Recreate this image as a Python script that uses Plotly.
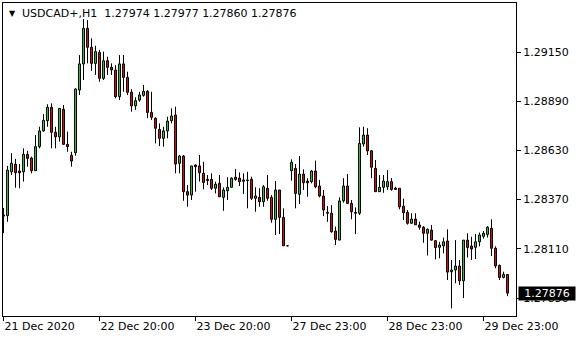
import plotly.graph_objects as go

symbol_title = "USDCAD+,H1\u00a0\u00a01.27974 1.27977 1.27860 1.27876"
last_price = 1.27876

opens = [
    1.28289, 1.28285, 1.28517, 1.28557, 1.28521, 1.28517, 1.28609, 1.28590, 1.28523, 1.28650,
    1.28733, 1.28787, 1.28858, 1.28726, 1.28702, 1.28847, 1.28662, 1.28604, 1.28618, 1.28949,
    1.29087, 1.29275, 1.29175, 1.29090, 1.29148, 1.29011, 1.29104, 1.29069, 1.29055, 1.28914,
    1.29087, 1.29016, 1.28937, 1.28866, 1.28896, 1.28921, 1.28942, 1.28831, 1.28800, 1.28741,
    1.28694, 1.28733, 1.28787, 1.28817, 1.28562, 1.28600, 1.28412, 1.28394, 1.28553, 1.28548,
    1.28509, 1.28477, 1.28477, 1.28430, 1.28456, 1.28382, 1.28417, 1.28435, 1.28488, 1.28483,
    1.28474, 1.28474, 1.28477, 1.28377, 1.28382, 1.28359, 1.28430, 1.28382, 1.28266, 1.28421,
    1.28276, 1.28126, 1.28523, 1.28535, 1.28398, 1.28505, 1.28468, 1.28465, 1.28521, 1.28442,
    1.28389, 1.28303, 1.28298, 1.28204, 1.28156, 1.28364, 1.28442, 1.28350, 1.28303, 1.28298,
    1.28664, 1.28711, 1.28628, 1.28535, 1.28412, 1.28435, 1.28438, 1.28465, 1.28430, 1.28430,
    1.28335, 1.28302, 1.28245, 1.28267, 1.28236, 1.28224, 1.28192, 1.28209, 1.28153, 1.28118,
    1.28126, 1.28151, 1.27989, 1.27998, 1.28019, 1.27941, 1.28156, 1.28125, 1.28118, 1.28147,
    1.28176, 1.28186, 1.28218, 1.28113, 1.28022, 1.27959, 1.27974,
]

highs = [
    1.28326, 1.28548, 1.28615, 1.28585, 1.28558, 1.28641, 1.28628, 1.28597, 1.28711, 1.28755,
    1.28822, 1.28874, 1.28879, 1.28755, 1.28852, 1.28870, 1.28729, 1.28623, 1.28958, 1.29134,
    1.29324, 1.29319, 1.29222, 1.29183, 1.29161, 1.29152, 1.29125, 1.29090, 1.29081, 1.29134,
    1.29134, 1.29046, 1.28954, 1.28911, 1.28940, 1.28976, 1.28949, 1.28940, 1.28805, 1.28773,
    1.28755, 1.28808, 1.28852, 1.28861, 1.28606, 1.28606, 1.28447, 1.28548, 1.28556, 1.28606,
    1.28570, 1.28500, 1.28509, 1.28465, 1.28500, 1.28435, 1.28488, 1.28488, 1.28532, 1.28514,
    1.28509, 1.28517, 1.28491, 1.28435, 1.28430, 1.28447, 1.28500, 1.28394, 1.28468, 1.28421,
    1.28324, 1.28128, 1.28583, 1.28558, 1.28600, 1.28530, 1.28483, 1.28526, 1.28576, 1.28474,
    1.28421, 1.28336, 1.28341, 1.28227, 1.28382, 1.28483, 1.28505, 1.28368, 1.28329, 1.28752,
    1.28755, 1.28747, 1.28632, 1.28579, 1.28500, 1.28500, 1.28526, 1.28484, 1.28438, 1.28430,
    1.28375, 1.28315, 1.28298, 1.28298, 1.28253, 1.28230, 1.28218, 1.28236, 1.28156, 1.28147,
    1.28169, 1.28213, 1.28051, 1.28156, 1.28051, 1.28156, 1.28192, 1.28174, 1.28188, 1.28196,
    1.28204, 1.28230, 1.28266, 1.28123, 1.28027, 1.27989, 1.27977,
]

lows = [
    1.28193, 1.28253, 1.28500, 1.28433, 1.28430, 1.28465, 1.28544, 1.28509, 1.28523, 1.28641,
    1.28729, 1.28755, 1.28641, 1.28641, 1.28676, 1.28662, 1.28623, 1.28544, 1.28602, 1.28923,
    1.29002, 1.29090, 1.29050, 1.29029, 1.28993, 1.29002, 1.29029, 1.29029, 1.28905, 1.28896,
    1.28940, 1.28923, 1.28835, 1.28844, 1.28887, 1.28914, 1.28800, 1.28791, 1.28667, 1.28653,
    1.28650, 1.28694, 1.28773, 1.28509, 1.28509, 1.28364, 1.28332, 1.28368, 1.28412, 1.28465,
    1.28424, 1.28447, 1.28421, 1.28403, 1.28385, 1.28311, 1.28368, 1.28435, 1.28470, 1.28442,
    1.28400, 1.28324, 1.28368, 1.28306, 1.28332, 1.28332, 1.28364, 1.28248, 1.28183, 1.28188,
    1.28126, 1.28123, 1.28470, 1.28324, 1.28347, 1.28421, 1.28385, 1.28456, 1.28430, 1.28382,
    1.28283, 1.28253, 1.28195, 1.28130, 1.28156, 1.28354, 1.28347, 1.28266, 1.28188, 1.28289,
    1.28650, 1.28606, 1.28483, 1.28412, 1.28412, 1.28406, 1.28421, 1.28417, 1.28421, 1.28319,
    1.28262, 1.28238, 1.28241, 1.28236, 1.28211, 1.28142, 1.28075, 1.28153, 1.28054, 1.28060,
    1.28086, 1.27945, 1.27795, 1.27928, 1.27919, 1.27850, 1.28064, 1.28051, 1.28056, 1.28123,
    1.28164, 1.28170, 1.28072, 1.28007, 1.27945, 1.27954, 1.27860,
]

closes = [
    1.28283, 1.28526, 1.28562, 1.28512, 1.28512, 1.28609, 1.28588, 1.28523, 1.28650, 1.28733,
    1.28789, 1.28858, 1.28726, 1.28702, 1.28852, 1.28662, 1.28650, 1.28574, 1.28954, 1.29087,
    1.29275, 1.29175, 1.29090, 1.29152, 1.29011, 1.29104, 1.29069, 1.29055, 1.28914, 1.29087,
    1.29016, 1.28937, 1.28865, 1.28893, 1.28923, 1.28942, 1.28831, 1.28805, 1.28747, 1.28694,
    1.28733, 1.28785, 1.28812, 1.28558, 1.28600, 1.28412, 1.28394, 1.28548, 1.28544, 1.28512,
    1.28461, 1.28470, 1.28430, 1.28451, 1.28385, 1.28421, 1.28435, 1.28483, 1.28477, 1.28465,
    1.28467, 1.28471, 1.28377, 1.28389, 1.28359, 1.28438, 1.28377, 1.28266, 1.28421, 1.28276,
    1.28126, 1.28126, 1.28567, 1.28403, 1.28505, 1.28459, 1.28459, 1.28521, 1.28438, 1.28389,
    1.28315, 1.28298, 1.28200, 1.28160, 1.28363, 1.28442, 1.28350, 1.28306, 1.28298, 1.28667,
    1.28711, 1.28628, 1.28541, 1.28412, 1.28435, 1.28468, 1.28465, 1.28424, 1.28424, 1.28332,
    1.28301, 1.28245, 1.28267, 1.28237, 1.28224, 1.28192, 1.28213, 1.28156, 1.28117, 1.28130,
    1.28147, 1.27987, 1.27998, 1.28019, 1.27941, 1.28156, 1.28117, 1.28109, 1.28147, 1.28183,
    1.28192, 1.28224, 1.28113, 1.28020, 1.27959, 1.27975, 1.27876,
]

bar_index = list(range(len(opens)))
time_tick_bars = [0, 24, 48, 72, 96, 120]
time_tick_labels = ["21 Dec 2020", "22 Dec 20:00", "23 Dec 20:00",
                    "27 Dec 23:00", "28 Dec 23:00", "29 Dec 23:00"]
price_ticks = [1.27850, 1.28110, 1.28370, 1.28630, 1.28890, 1.29150]

FONT = "DejaVu Sans"
BULL = "#00e000"
BEAR = "#f00000"
HALF_BODY = 0.25  # half body width in bar units

# wick segments (outside the bodies)
wx, wy = [], []
for i, o, h, l, c in zip(bar_index, opens, highs, lows, closes):
    top, bot = max(o, c), min(o, c)
    if h > top:
        wx += [i, i, None]; wy += [top, h, None]
    if l < bot:
        wx += [i, i, None]; wy += [l, bot, None]

fig = go.Figure()
fig.add_trace(go.Scatter(
    x=wx, y=wy, mode="lines", line=dict(color="black", width=1),
    hoverinfo="skip", showlegend=False,
))

# bodies as filled rectangles with black outline
for colour, pick in ((BULL, lambda o, c: c > o), (BEAR, lambda o, c: c <= o)):
    bx, by = [], []
    for i, o, c in zip(bar_index, opens, closes):
        if not pick(o, c):
            continue
        top, bot = max(o, c), min(o, c)
        x0, x1 = i - HALF_BODY, i + HALF_BODY
        bx += [x0, x0, x1, x1, x0, None]
        by += [bot, top, top, bot, bot, None]
    fig.add_trace(go.Scatter(
        x=bx, y=by, mode="lines", fill="toself", fillcolor=colour,
        line=dict(color="black", width=1),
        hoverinfo="skip", showlegend=False,
    ))

fig.update_layout(
    width=580, height=340, autosize=False,
    margin=dict(l=3, r=64, t=3, b=24),
    paper_bgcolor="white", plot_bgcolor="white",
    font=dict(family=FONT, size=11, color="black"),
    showlegend=False,
    xaxis=dict(
        range=[-0.125, 128.125],
        tickmode="array", tickvals=time_tick_bars, ticktext=time_tick_labels,
        ticks="outside", ticklen=4, tickcolor="black", tickwidth=1,
        ticklabelposition="outside right",
        showgrid=False, zeroline=False,
        showline=True, linecolor="black", linewidth=1, mirror=True,
        tickfont=dict(family=FONT, size=11, color="black"),
    ),
    yaxis=dict(
        side="right", range=[1.27755, 1.29409],
        tickmode="array", tickvals=price_ticks, tickformat=".5f",
        ticks="outside", ticklen=4, tickcolor="black", tickwidth=1,
        showgrid=False, zeroline=False,
        showline=True, linecolor="black", linewidth=1, mirror=True,
        tickfont=dict(family=FONT, size=11, color="black"),
    ),
)

fig.add_annotation(
    xref="paper", yref="paper", x=0.0078, y=0.968, xanchor="left", yanchor="middle",
    text="\u25bc", showarrow=False, font=dict(family=FONT, size=8, color="black"),
)
fig.add_annotation(
    xref="paper", yref="paper", x=0.033, y=0.968, xanchor="left", yanchor="middle",
    text=symbol_title, showarrow=False, font=dict(family=FONT, size=11, color="black"),
)
fig.add_annotation(
    xref="paper", yref="y", x=1, y=last_price, xanchor="left", yanchor="middle",
    xshift=2, text=f"{last_price:.5f}", showarrow=False,
    bgcolor="black", width=56, height=13, borderpad=0,
    font=dict(family=FONT, size=11, color="white"),
)

fig.write_html("out.html")
